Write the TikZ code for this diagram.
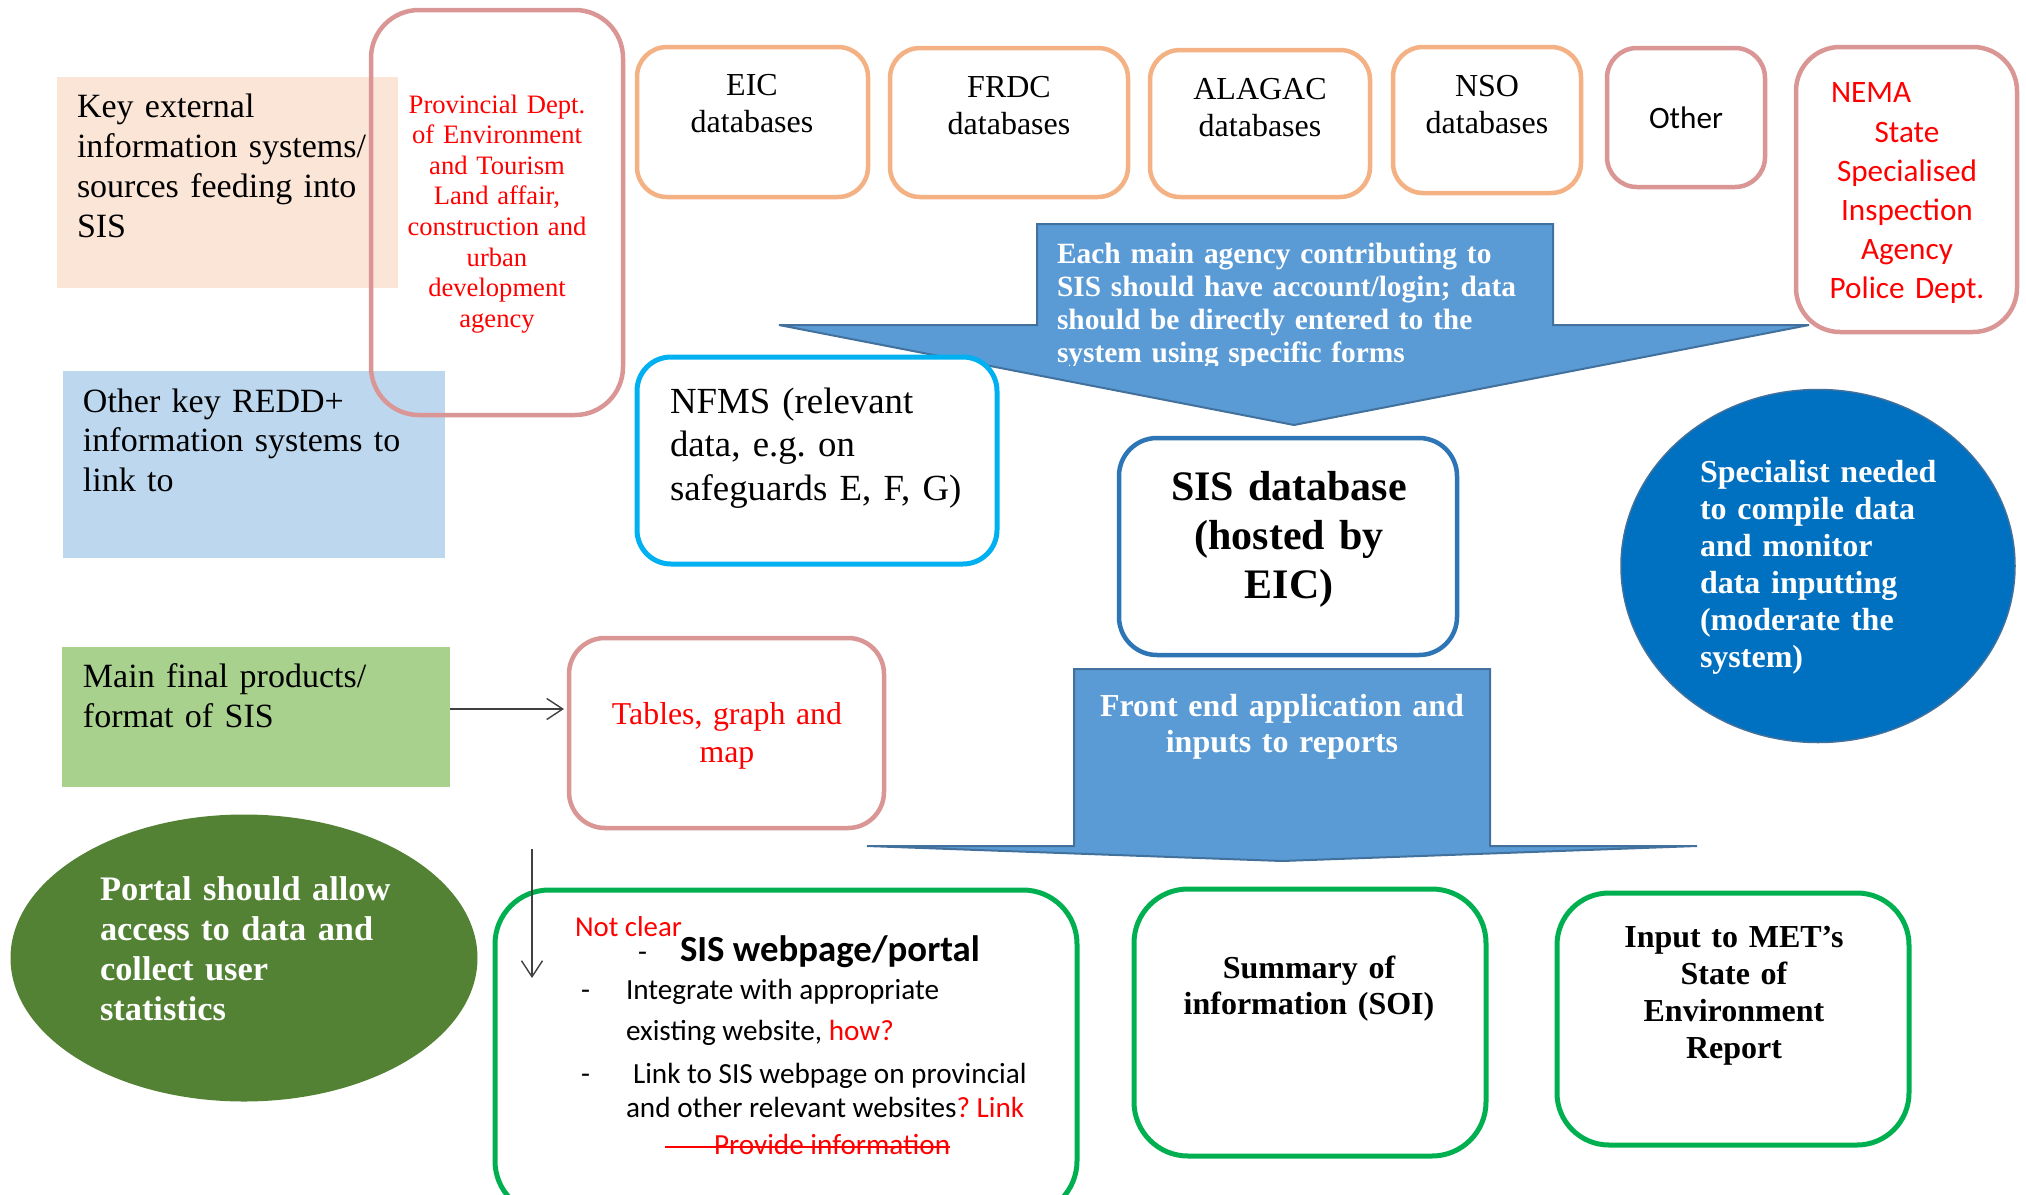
\documentclass[tikz,border=0pt]{standalone}
\usepackage{fontspec}
\setmainfont{Liberation Serif}
\newfontfamily\calibri{Carlito}
\usetikzlibrary{fit,shapes.geometric,arrows.meta,calc}
\definecolor{peach}{HTML}{FBE5D6}
\definecolor{lblue}{HTML}{BDD7EE}
\definecolor{lgreen}{HTML}{A9D18E}
\definecolor{rosy}{HTML}{D99694}
\definecolor{orng}{HTML}{F4B183}
\definecolor{cyanb}{HTML}{00B0F0}
\definecolor{sisblue}{HTML}{2E75B6}
\definecolor{arrfill}{HTML}{5B9BD5}
\definecolor{arredge}{HTML}{41719C}
\definecolor{dblue}{HTML}{0070C0}
\definecolor{dgreen}{HTML}{548235}
\definecolor{gborder}{HTML}{00B050}
\definecolor{redt}{HTML}{FF0000}
\definecolor{connc}{HTML}{404040}
\frenchspacing
\begin{document}
\begin{tikzpicture}[x=0.5pt,y=-0.5pt,
  txt/.style={inner sep=0pt, outer sep=0pt},
  bgrect/.style={inner sep=0pt, outer sep=0pt, draw=none},
  rbox/.style={inner sep=0pt, outer sep=0pt, draw, line width=2.25pt, rounded corners=#1},
  gbox/.style={rbox=#1, draw=gborder, line width=2.5pt, fill=white},
  blockarrow/.style={fill=arrfill, draw=arredge, line width=1pt, line join=miter},
  conn/.style={draw=connc, line width=0.7pt, -{Straight Barb[length=8pt,width=10.5pt]}},
  tnr/.style={txt, text width=#1},
]
\useasboundingbox (0,0) rectangle (2026,1195);
\fill[white] (0,0) rectangle (2026,1195);

% background coloured rectangles
\node[fit={(57,77) (398,288)}, fill=peach, bgrect] (keyext) {};
\node[fit={(63,371) (445,558)}, fill=lblue, bgrect] (otherkey) {};
\node[fit={(62,647) (450,787)}, fill=lgreen, bgrect] (mainfp) {};

\node[tnr=180pt, align=left, anchor=base west, font=\fontsize{17}{20}\selectfont] (keyextt) at (77,117)
  {Key external\\information systems/\\sources feeding into\\SIS};
\node[tnr=180pt, align=left, anchor=base west, font=\fontsize{17}{19.75}\selectfont] (otherkeyt) at (83,412)
  {Other key REDD+\\information systems to\\link to};
\node[tnr=180pt, align=left, anchor=base west, font=\fontsize{17}{20}\selectfont] (mainfpt) at (83,687)
  {Main final products/\\format of SIS};

% provincial box (transparent)
\node[fit={(371,10) (623,415)}, rbox=24pt, draw=rosy] (prov) {};
\node[tnr=120pt, align=center, anchor=base, text=redt, font=\fontsize{13.3}{15.3}\selectfont] (provt) at (497,113)
  {Provincial Dept.\\of Environment\\and Tourism\\Land affair,\\construction and\\urban\\development\\agency};

% block arrows
\filldraw[blockarrow] (1037,224) -- (1553,224) -- (1553,325) -- (1809,325) -- (1294,425) -- (779,325) -- (1037,325) -- cycle;
\begin{scope}
  \clip (1037,224) rectangle (1553,365);
  \node[tnr=250pt, align=left, anchor=base west, text=white, font=\bfseries\fontsize{14.7}{16.65}\selectfont] (agencyt) at (1057,263)
    {Each main agency contributing to\\SIS should have account/login; data\\should be directly entered to the\\system using specific forms};
\end{scope}

\filldraw[blockarrow] (1074,669) -- (1490,669) -- (1490,846) -- (1697,846) -- (1282,861) -- (867,846) -- (1074,846) -- cycle;
\node[tnr=200pt, align=center, anchor=base, text=white, font=\bfseries\fontsize{16}{18}\selectfont] (frontt) at (1282,716)
  {Front end application and\\inputs to reports};

% top source boxes
\node[fit={(637,47) (868,197)}, rbox=15pt, draw=orng, fill=white] (eic) {};
\node[fit={(890,48) (1128,197)}, rbox=15pt, draw=orng, fill=white] (frdc) {};
\node[fit={(1150,50) (1370,197)}, rbox=15pt, draw=orng, fill=white] (alagac) {};
\node[fit={(1393,47) (1581,193)}, rbox=15pt, draw=orng, fill=white] (nso) {};
\node[fit={(1607,48) (1765,187)}, rbox=15pt, draw=rosy, fill=white] (other) {};
\node[fit={(1796,47) (2017,332)}, rbox=22pt, draw=rosy, fill=white] (nema) {};

\node[tnr=100pt, align=center, anchor=base, font=\fontsize{16}{18.5}\selectfont] (eict) at (752,95) {EIC\\databases};
\node[tnr=100pt, align=center, anchor=base, font=\fontsize{16}{18.5}\selectfont] (frdct) at (1009,97) {FRDC\\databases};
\node[tnr=100pt, align=center, anchor=base, font=\fontsize{16}{18.5}\selectfont] (alagact) at (1260,99) {ALAGAC\\databases};
\node[tnr=90pt, align=center, anchor=base, font=\fontsize{16}{18.5}\selectfont] (nsot) at (1487,96) {NSO\\databases};
\node[txt, anchor=base, font=\calibri\fontsize{15.6}{19}\selectfont] (othert) at (1686,128) {Other};
\node[txt, anchor=base west, text=redt, font=\calibri\fontsize{15.6}{19.5}\selectfont] (nemat) at (1831,102) {NEMA};
\node[tnr=100pt, align=center, anchor=base, text=redt, font=\calibri\fontsize{15.6}{19.5}\selectfont] (nemarest) at (1907,142)
  {State\\Specialised\\Inspection\\Agency\\Police Dept.};

% middle boxes
\node[fit={(637,357) (997,564)}, rbox=17pt, draw=cyanb, line width=2.5pt, fill=white] (nfms) {};
\node[tnr=170pt, align=left, anchor=base west, font=\fontsize{18.4}{21.75}\selectfont] (nfmst) at (670,413)
  {NFMS (relevant\\data, e.g. on\\safeguards E, F, G)};

\node[fit={(1119,438) (1457,655)}, rbox=19pt, draw=sisblue, fill=white] (sisdb) {};
\node[tnr=160pt, align=center, anchor=base, font=\bfseries\fontsize{21}{24.5}\selectfont] (sisdbt) at (1289,500)
  {SIS database\\(hosted by\\EIC)};

\node[fit={(569,638) (884,828)}, rbox=18pt, draw=rosy, fill=white] (tables) {};
\node[tnr=140pt, align=center, anchor=base, text=redt, font=\fontsize{15.9}{19}\selectfont] (tablest) at (727,724)
  {Tables, graph and\\map};

% ellipses
\node[ellipse, fill=dblue, draw=arredge, line width=0.75pt, minimum width=197pt, minimum height=176.5pt, inner sep=0pt] (spec) at (1818,566) {};
\node[tnr=150pt, align=left, anchor=base west, text=white, font=\bfseries\fontsize{16}{18.5}\selectfont] (spect) at (1700,482)
  {Specialist needed\\to compile data\\and monitor\\data inputting\\(moderate the\\system)};

\node[ellipse, fill=dgreen, draw=none, minimum width=233.5pt, minimum height=143.5pt, inner sep=0pt] (portal) at (244,958) {};
\node[tnr=180pt, align=left, anchor=base west, text=white, font=\bfseries\fontsize{17.2}{20}\selectfont] (portalt) at (100,900)
  {Portal should allow\\access to data and\\collect user\\statistics};

% output boxes
\node[fit={(495,890) (1077,1215)}, gbox=27pt] (web) {};
\node[fit={(1134,889) (1486,1156)}, gbox=27pt] (soi) {};
\node[fit={(1557,893) (1909,1145)}, gbox=26pt] (met) {};

\node[tnr=170pt, align=center, anchor=base, font=\bfseries\fontsize{16}{18}\selectfont] (soit) at (1309,978)
  {Summary of\\information (SOI)};
\node[tnr=170pt, align=center, anchor=base, font=\bfseries\fontsize{16}{18.65}\selectfont] (mett) at (1734,947)
  {Input to MET’s\\State of\\Environment\\Report};

% webpage contents
\node[txt, anchor=base west, text=redt, font=\calibri\fontsize{14.4}{17}\selectfont] (notclear) at (575,936) {Not clear};
\node[txt, anchor=base west, font=\calibri\fontsize{14.6}{17}\selectfont] (dash0) at (638,961) {-};
\node[txt, anchor=base west, font=\calibri\bfseries\fontsize{18.4}{22}\selectfont] (sisweb) at (680,961) {SIS webpage/portal};
\node[txt, anchor=base west, font=\calibri\fontsize{14.6}{17}\selectfont] (dash1) at (581,999) {-};
\node[txt, anchor=base west, font=\calibri\fontsize{14.6}{17}\selectfont] (integ) at (626,999) {Integrate with appropriate};
\node[txt, anchor=base west, font=\calibri\fontsize{14.6}{17}\selectfont] (exist) at (626,1040) {existing website, \textcolor{redt}{how?}};
\node[txt, anchor=base west, font=\calibri\fontsize{14.6}{17}\selectfont] (dash2) at (581,1083) {-};
\node[txt, anchor=base west, font=\calibri\fontsize{14.6}{17}\selectfont] (linkto) at (633,1083) {Link to SIS webpage on provincial};
\node[txt, anchor=base west, font=\calibri\fontsize{14.6}{17}\selectfont] (andother) at (626,1117) {and other relevant websites\textcolor{redt}{? Link}};
\node[txt, anchor=base west, text=redt, font=\calibri\fontsize{14.6}{17}\selectfont] (provinfo) at (714,1154) {Provide information};
\draw[redt, line width=0.9pt] ($(provinfo.base west)+(-49,-7)$) -- ($(provinfo.base east)+(0,-7)$);

% connectors
\coordinate (a1) at ([yshift=4pt]mainfp.east);
\draw[conn, shorten >=2.5pt] (a1) -- (a1 -| tables.west);
\coordinate (va1) at (532,849);
\coordinate (va2) at (532,978);
\draw[conn] (va1) -- (va2);
\end{tikzpicture}
\end{document}
